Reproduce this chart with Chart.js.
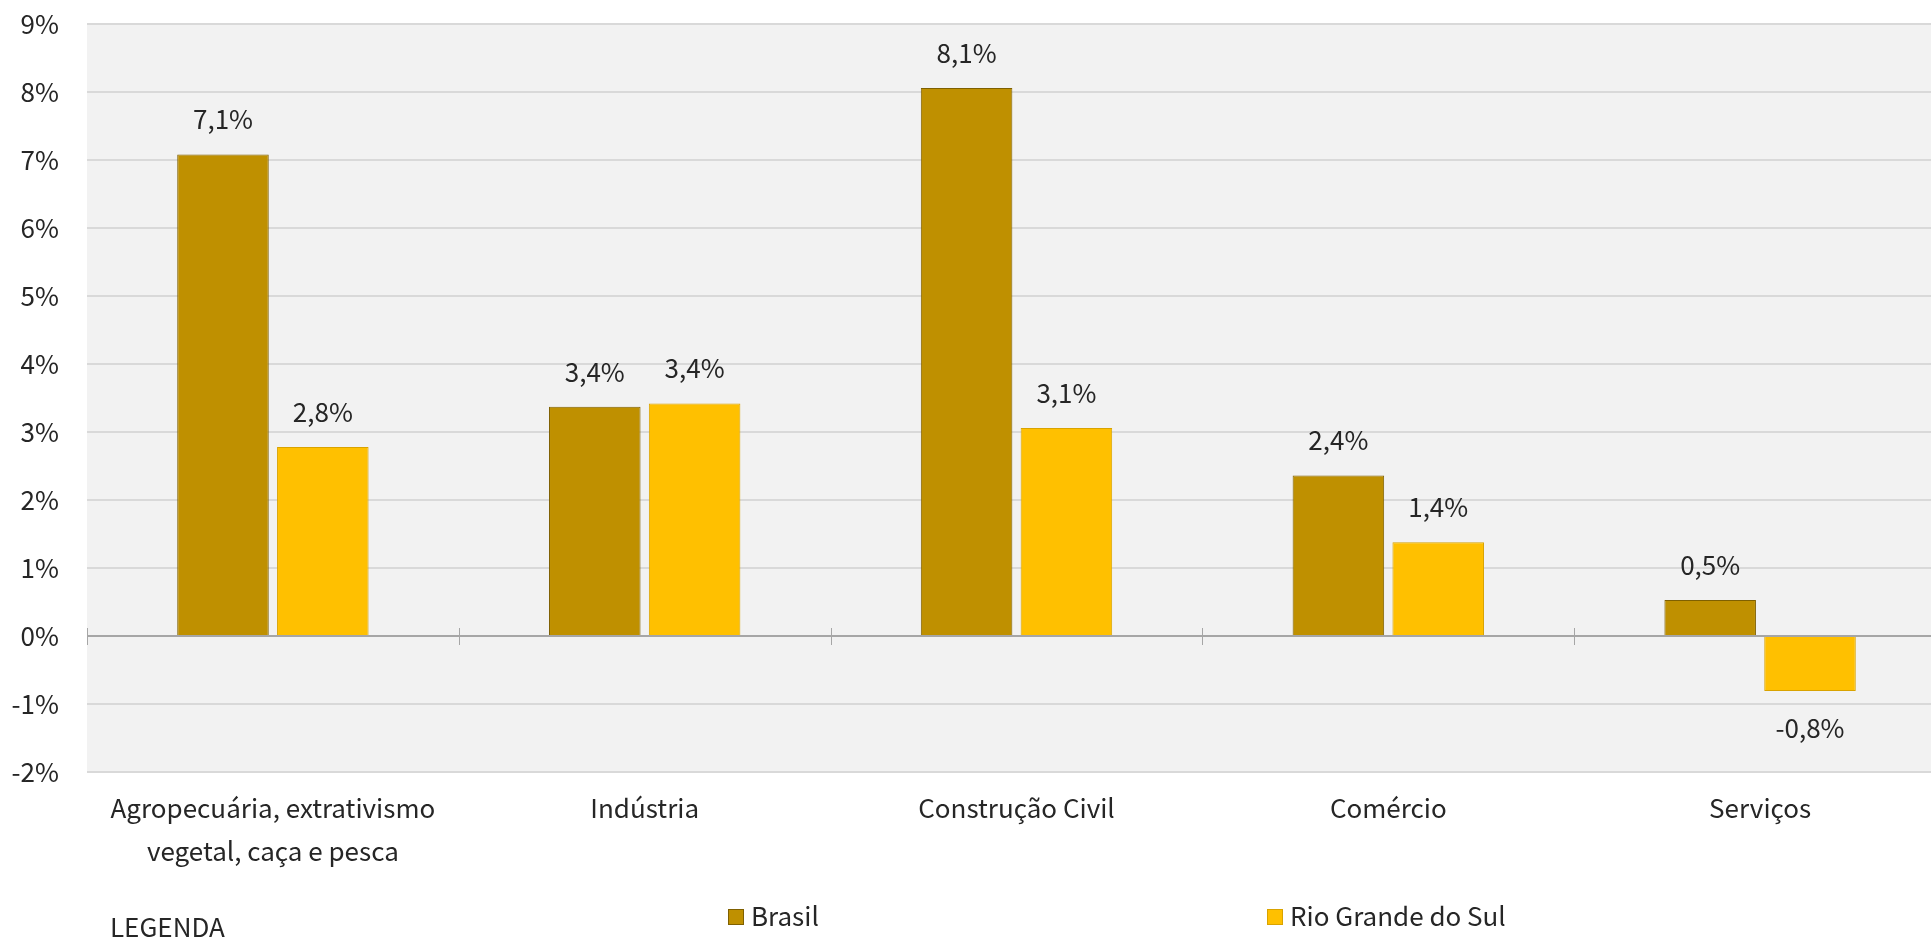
<!DOCTYPE html>
<html>
<head>
<meta charset="utf-8">
<script src="https://cdn.jsdelivr.net/npm/chart.js@4"></script>
<style>
  html, body { margin: 0; padding: 0; background: #fff; overflow: hidden; }
  body { width: 1931px; height: 939px; position: relative; font-family: "Noto Sans CJK JP", "Noto Sans", sans-serif; color: #262626; }
  #wrap { position: absolute; left: 0; top: 0; width: 1946px; height: 939px; }
  .leg { position: absolute; font-size: 26px; line-height: 30px; white-space: nowrap; }
  .box { position: absolute; width: 14px; height: 14px; border: 1px solid; }
</style>
</head>
<body>
<div id="wrap"><canvas id="grafico" width="1946" height="939"></canvas></div>
<div class="leg" style="left:110px; top:911px;">LEGENDA</div>
<div class="box" style="left:728px; top:909px; background:#bf9000; border-color:#7f6000;"></div>
<div class="leg" style="left:751px; top:900px;">Brasil</div>
<div class="box" style="left:1267px; top:909px; background:#ffc000; border-color:#d9a300;"></div>
<div class="leg" style="left:1290px; top:900px;">Rio Grande do Sul</div>
<script>
const setores = [
  ['Agropecuária, extrativismo', 'vegetal, caça e pesca'],
  'Indústria',
  'Construção Civil',
  'Comércio',
  'Serviços'
];
const brasil = [7.08, 3.37, 8.06, 2.36, 0.53];
const rioGrande = [2.78, 3.42, 3.06, 1.38, -0.81];
const minY = -2;
const maxY = 9;

const fonte = '"Noto Sans CJK JP", "Noto Sans", sans-serif';

function rotulo(v) {
  return v.toFixed(1).replace('.', ',') + '%';
}

// fundo cinza da área do gráfico
const fundoPlugin = {
  id: 'fundo',
  beforeDraw(chart) {
    const a = chart.chartArea;
    const ctx = chart.ctx;
    ctx.save();
    ctx.fillStyle = '#f2f2f2';
    ctx.fillRect(a.left, a.top, a.right - a.left, a.bottom - a.top);
    ctx.restore();
  }
};

// linha do zero com marcas entre categorias
const eixoZeroPlugin = {
  id: 'eixoZero',
  afterDatasetsDraw(chart) {
    const ctx = chart.ctx;
    const x = chart.scales.x;
    const y0 = chart.scales.y.getPixelForValue(0);
    const passo = x.getPixelForValue(1) - x.getPixelForValue(0);
    ctx.save();
    ctx.strokeStyle = '#a6a6a6';
    ctx.lineWidth = 2;
    ctx.beginPath();
    ctx.moveTo(chart.chartArea.left, y0);
    ctx.lineTo(chart.chartArea.right, y0);
    ctx.stroke();
    ctx.lineWidth = 1;
    ctx.beginPath();
    for (let i = 0; i <= setores.length; i++) {
      const px = Math.round(x.getPixelForValue(0) - passo / 2 + i * passo) + 0.5;
      ctx.moveTo(px, y0 - 8);
      ctx.lineTo(px, y0 + 9);
    }
    ctx.stroke();
    ctx.restore();
  }
};

// valores acima / abaixo das barras
const valoresPlugin = {
  id: 'valores',
  afterDatasetsDraw(chart) {
    const ctx = chart.ctx;
    ctx.save();
    ctx.font = '26px ' + fonte;
    ctx.fillStyle = '#262626';
    ctx.textAlign = 'center';
    ctx.textBaseline = 'middle';
    chart.data.datasets.forEach(function (ds, di) {
      chart.getDatasetMeta(di).data.forEach(function (bar, i) {
        const v = ds.data[i];
        const py = v >= 0 ? bar.y - 35 : bar.y + 37;
        ctx.fillText(rotulo(v), bar.x, py);
      });
    });
    ctx.restore();
  }
};

new Chart(document.getElementById('grafico'), {
  type: 'bar',
  data: {
    labels: setores,
    datasets: [
      {
        label: 'Brasil',
        data: brasil,
        backgroundColor: '#bf9000',
        borderColor: '#7f6000',
        borderWidth: 1,
        categoryPercentage: 0.537,
        barPercentage: 0.917
      },
      {
        label: 'Rio Grande do Sul',
        data: rioGrande,
        backgroundColor: '#ffc000',
        borderColor: '#d9a300',
        borderWidth: 1,
        categoryPercentage: 0.537,
        barPercentage: 0.917
      }
    ]
  },
  options: {
    responsive: false,
    animation: false,
    layout: { padding: { top: 24, right: 0, bottom: 0, left: 0 } },
    plugins: {
      legend: { display: false },
      tooltip: { enabled: false }
    },
    scales: {
      x: {
        grid: { display: false },
        border: { display: false },
        ticks: {
          color: '#262626',
          padding: 7,
          font: { family: fonte, size: 26, lineHeight: 1.65 },
          maxRotation: 0,
          autoSkip: false
        },
        afterFit(scale) {
          scale.height = 167;
          scale.paddingLeft = 0;
          scale.paddingRight = 0;
        }
      },
      y: {
        min: minY,
        max: maxY,
        grid: {
          color: '#d9d9d9',
          lineWidth: 2,
          drawTicks: false
        },
        border: { display: false },
        ticks: {
          stepSize: 1,
          padding: 28,
          color: '#262626',
          font: { family: fonte, size: 26 },
          callback: function (v) { return v + '%'; }
        },
        afterFit(scale) {
          scale.width = 87;
          scale.paddingTop = 0;
          scale.paddingBottom = 0;
        }
      }
    }
  },
  plugins: [fundoPlugin, eixoZeroPlugin, valoresPlugin]
});
</script>
</body>
</html>
